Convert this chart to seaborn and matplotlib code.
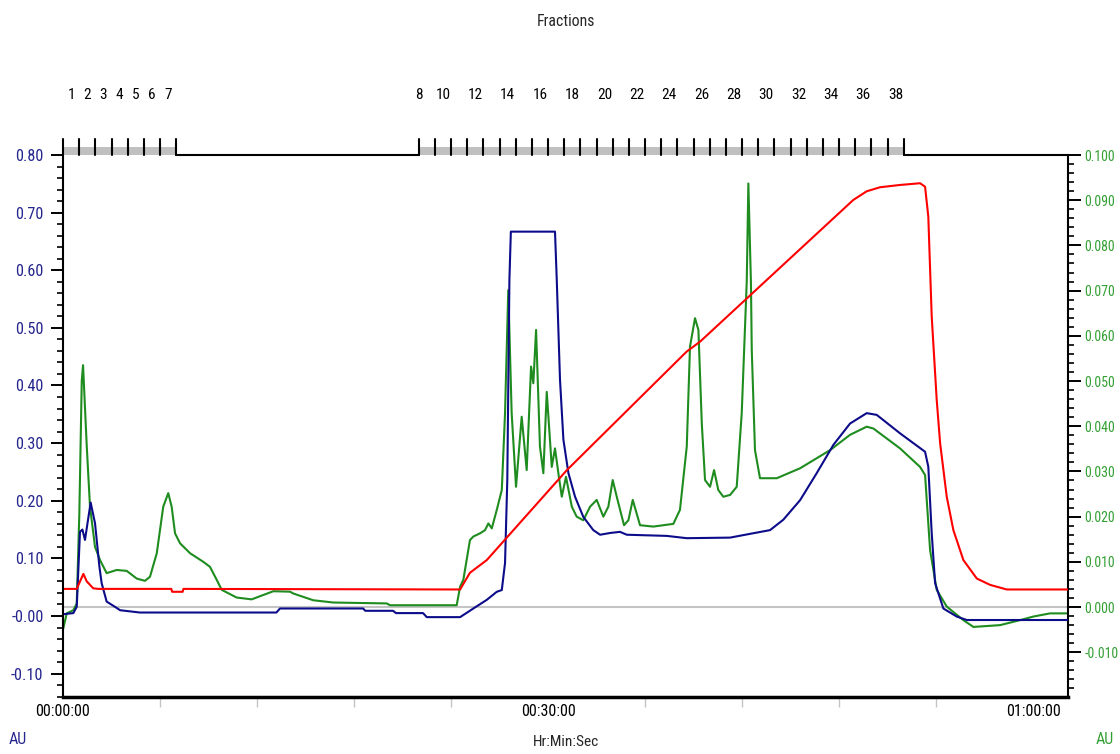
import seaborn as sns
import matplotlib.pyplot as plt
import matplotlib.transforms as mtransforms
from matplotlib import font_manager
from matplotlib.patches import Rectangle
from matplotlib.ticker import FixedLocator, FixedFormatter, MultipleLocator

# time in minutes, absorbance
blue_t = [0.0, 0.64, 0.85, 1.05, 1.20, 1.36, 1.71, 1.98, 2.25, 2.39, 2.70, 3.32, 3.53, 4.76,
          13.2, 13.42, 18.56, 18.7, 20.41, 20.6, 22.27, 22.5, 24.56, 25.38, 26.21, 26.83,
          27.14, 27.34, 27.48, 27.61, 27.70, 30.43, 30.54, 30.74, 30.95, 31.26, 31.67, 32.18,
          32.80, 33.22, 33.83, 34.45, 34.87, 37.34, 38.58, 41.26, 42.39, 43.73, 44.55, 45.59,
          46.62, 47.65, 48.68, 49.71, 50.33, 51.77, 53.32, 53.52, 53.73, 53.94, 54.45, 55.28,
          55.90, 62.16]
blue_v = [0.003, 0.005, 0.016, 0.146, 0.150, 0.132, 0.197, 0.161, 0.086, 0.057, 0.025, 0.014,
          0.010, 0.006, 0.006, 0.013, 0.013, 0.009, 0.009, 0.005, 0.005, -0.002, -0.002, 0.013,
          0.028, 0.042, 0.045, 0.092, 0.236, 0.583, 0.667, 0.667, 0.583, 0.410, 0.306, 0.248,
          0.207, 0.172, 0.149, 0.141, 0.144, 0.146, 0.141, 0.139, 0.135, 0.136, 0.142, 0.149,
          0.167, 0.201, 0.248, 0.297, 0.334, 0.352, 0.349, 0.317, 0.285, 0.259, 0.144, 0.057,
          0.013, -0.001, -0.007, -0.007]

green_t = [0.0, 0.23, 0.64, 0.85, 1.01, 1.16, 1.24, 1.47, 1.67, 1.98, 2.29, 2.70, 3.32, 3.94,
           4.56, 5.07, 5.38, 5.80, 6.20, 6.51, 6.72, 6.93, 7.24, 7.86, 8.68, 9.09, 9.51, 9.82,
           10.74, 11.67, 13.01, 14.04, 14.24, 15.48, 16.72, 20.02, 20.23, 24.35, 24.56, 24.76,
           25.17, 25.38, 25.79, 26.10, 26.31, 26.52, 26.83, 27.14, 27.34, 27.54, 27.75, 28.02,
           28.37, 28.68, 28.95, 29.09, 29.26, 29.50, 29.71, 29.92, 30.23, 30.43, 30.64, 30.85,
           31.11, 31.47, 31.77, 32.18, 32.60, 33.01, 33.42, 33.73, 34.00, 34.25, 34.70, 34.97,
           35.24, 35.69, 36.51, 37.75, 38.16, 38.58, 38.78, 39.09, 39.30, 39.51, 39.71, 40.02,
           40.27, 40.53, 40.84, 41.26, 41.67, 41.98, 42.29, 42.39, 42.55, 42.60, 42.80, 43.11,
           44.15, 45.59, 47.44, 48.68, 49.71, 50.12, 51.77, 53.01, 53.32, 53.63, 54.04, 54.66,
           55.69, 56.31, 57.96, 59.19, 60.02, 61.05, 62.16]
green_v = [-0.0050, -0.0014, -0.0007, 0.0008, 0.0207, 0.0500, 0.0535, 0.0355, 0.0222, 0.0133,
           0.0104, 0.0075, 0.0082, 0.0080, 0.0063, 0.0058, 0.0067, 0.0119, 0.0222, 0.0252,
           0.0222, 0.0163, 0.0141, 0.0119, 0.0100, 0.0089, 0.0060, 0.0038, 0.0021, 0.0017,
           0.0035, 0.0034, 0.0030, 0.0015, 0.0010, 0.0008, 0.0004, 0.0004, 0.0045, 0.0060,
           0.0148, 0.0156, 0.0163, 0.0170, 0.0185, 0.0174, 0.0215, 0.0259, 0.0429, 0.0701,
           0.0429, 0.0266, 0.0421, 0.0303, 0.0532, 0.0495, 0.0613, 0.0355, 0.0296, 0.0476,
           0.0310, 0.0351, 0.0296, 0.0244, 0.0288, 0.0222, 0.0200, 0.0192, 0.0222, 0.0237,
           0.0200, 0.0222, 0.0281, 0.0244, 0.0181, 0.0192, 0.0237, 0.0181, 0.0178, 0.0184,
           0.0215, 0.0355, 0.0576, 0.0639, 0.0613, 0.0406, 0.0281, 0.0266, 0.0303, 0.0259,
           0.0244, 0.0248, 0.0266, 0.0429, 0.0720, 0.0937, 0.0717, 0.0569, 0.0347, 0.0285,
           0.0285, 0.0307, 0.0347, 0.0381, 0.0399, 0.0395, 0.0351, 0.0310, 0.0292, 0.0126,
           0.0038, 0.0001, -0.0029, -0.0044, -0.0040, -0.0029, -0.0021, -0.0014, -0.0014]

red_t = [0.0, 0.85, 1.09, 1.26, 1.47, 1.87, 2.20, 6.70, 6.75, 7.40, 7.45, 24.56, 25.17, 26.21,
         31.16, 38.58, 39.40, 48.88, 49.71, 50.53, 51.77, 53.01, 53.32, 53.52, 53.73, 54.04,
         54.25, 54.66, 55.07, 55.69, 56.52, 57.34, 58.37, 62.16]
red_v = [0.047, 0.047, 0.0625, 0.073, 0.060, 0.048, 0.047, 0.047, 0.042, 0.042, 0.047, 0.046,
         0.075, 0.097, 0.253, 0.459, 0.476, 0.722, 0.737, 0.744, 0.748, 0.751, 0.745, 0.693,
         0.520, 0.375, 0.300, 0.207, 0.149, 0.097, 0.065, 0.054, 0.046, 0.046]

# fraction marks (minutes) and labels
frac_edges = [0, 1, 2, 3, 4, 5, 6, 7,
              22, 23, 24, 25, 26, 27, 28, 29, 30, 31, 32, 33, 34, 35, 36, 37, 38, 39, 40,
              41, 42, 43, 44, 45, 46, 47, 48, 49, 50, 51, 52]
frac_spans = [(0, 7), (22, 52)]
frac_labels = ['1', '2', '3', '4', '5', '6', '7', '8', '10', '12', '14', '16', '18', '20',
               '22', '24', '26', '28', '30', '32', '34', '36', '38']
frac_label_pos = [0.5, 1.5, 2.5, 3.5, 4.5, 5.5, 6.5, 22.0, 23.5, 25.5, 27.5, 29.5, 31.5,
                  33.5, 35.5, 37.5, 39.5, 41.5, 43.5, 45.5, 47.5, 49.5, 51.5]

left_ticks = [0.8, 0.7, 0.6, 0.5, 0.4, 0.3, 0.2, 0.1, 0.0, -0.1]
left_labels = ['0.80', '0.70', '0.60', '0.50', '0.40', '0.30', '0.20', '0.10', '-0.00', '-0.10']
right_ticks = [0.1, 0.09, 0.08, 0.07, 0.06, 0.05, 0.04, 0.03, 0.02, 0.01, 0.0, -0.01]
right_labels = ['0.100', '0.090', '0.080', '0.070', '0.060', '0.050', '0.040', '0.030',
                '0.020', '0.010', '0.000', '-0.010']
time_ticks = [0, 30, 60]
time_labels = ['00:00:00', '00:30:00', '01:00:00']

NAVY = '#0c0c8a'
NAVY_TXT = '#26268f'
GREEN = '#1f8c1f'
GREEN_TXT = '#34a034'


def pick_face():
    # the original uses a very narrow sans; take a condensed face if one is installed
    fonts = font_manager.fontManager.ttflist
    names = sorted({f.name for f in fonts})
    for cand in ['Liberation Sans Narrow', 'Arial Narrow', 'Roboto Condensed',
                 'Noto Sans Condensed', 'Noto Sans SemiCondensed', 'Open Sans Condensed',
                 'DejaVu Sans Condensed']:
        if cand in names:
            return cand, 'normal'
    for n in names:
        if 'Narrow' in n or 'Condensed' in n:
            return n, 'normal'
    for f in fonts:
        if f.stretch in ('condensed', 'semi-condensed', 'extra-condensed') and f.weight in (400, 'normal', 'regular'):
            return f.name, f.stretch
    return 'Liberation Sans', 'normal'


sns.set_theme(style='white')
face, stretch = pick_face()
plt.rcParams['font.family'] = [face, 'DejaVu Sans']
plt.rcParams['font.stretch'] = stretch

fig = plt.figure(figsize=(11.2, 7.54), dpi=100)
renderer = fig.canvas.get_renderer()


def fit(text, width_px, cap):
    t = fig.text(0, 0, text, fontsize=10)
    w = t.get_window_extent(renderer).width
    t.remove()
    return min(10 * width_px / w, cap)


left_fs = fit('-0.00', 32, 13)
right_fs = fit('-0.010', 34, 13)
xtick_fs = fit('00:30:00', 54, 13)
frac_fs = fit('38', 15, 13.5)
title_fs = fit('Fractions', 58, 13)
xlab_fs = fit('Hr:Min:Sec', 66, 13)
au_fs = fit('AU', 18, 13)

ax = fig.add_axes([63 / 1120, 1 - 697 / 754, (1068 - 63) / 1120, (697 - 155) / 754])
ax2 = ax.twinx()
ax.set_zorder(ax2.get_zorder() + 1)
ax.patch.set_visible(False)

ax2.axhline(0, color='#c4c4c4', lw=1.5, zorder=1)
sns.lineplot(x=green_t, y=green_v, ax=ax2, color=GREEN, lw=1.5, estimator=None, sort=False)
sns.lineplot(x=blue_t, y=blue_v, ax=ax, color=NAVY, lw=1.5, estimator=None, sort=False)
sns.lineplot(x=red_t, y=red_v, ax=ax, color='#ff0000', lw=1.5, estimator=None, sort=False)

ax.set_xlim(0, 62.16)
ax.set_ylim(-0.1406, 0.80)
ax2.set_ylim(-0.0199, 0.100)

ax.yaxis.set_major_locator(FixedLocator(left_ticks))
ax.yaxis.set_major_formatter(FixedFormatter(left_labels))
ax.yaxis.set_minor_locator(MultipleLocator(0.02))
ax2.yaxis.set_major_locator(FixedLocator(right_ticks))
ax2.yaxis.set_major_formatter(FixedFormatter(right_labels))
ax2.yaxis.set_minor_locator(MultipleLocator(0.002))
ax.set_xticks(time_ticks)
ax.set_xticklabels(time_labels)
ax.xaxis.set_minor_locator(MultipleLocator(6))

ax.tick_params(axis='y', which='major', left=True, direction='out', length=9, width=1.4,
               color='black', labelcolor=NAVY_TXT, labelsize=left_fs, pad=5)
ax.tick_params(axis='y', which='minor', left=True, direction='out', length=4.5, width=1.2,
               color='black')
ax2.tick_params(axis='y', which='major', right=True, direction='out', length=9, width=1.4,
                color='black', labelcolor=GREEN_TXT, labelsize=right_fs, pad=3)
ax2.tick_params(axis='y', which='minor', right=True, direction='out', length=4.5, width=1.2,
                color='black')
ax.tick_params(axis='x', which='major', bottom=True, length=0, labelsize=xtick_fs, pad=5,
               labelcolor='black')
ax.tick_params(axis='x', which='minor', bottom=True, direction='out', length=7.5, width=1,
               color='#c4c4c4')
ax.set_xlabel('')
ax.set_ylabel('')
ax2.set_ylabel('')

for a in (ax, ax2):
    a.spines['top'].set_visible(False)
    for s in ('left', 'right', 'bottom'):
        a.spines[s].set_color('black')
ax.spines['left'].set_linewidth(1.5)
ax2.spines['right'].set_linewidth(1.5)
ax.spines['bottom'].set_linewidth(2.5)
ax2.spines['left'].set_visible(False)
ax2.spines['bottom'].set_visible(False)
ax.spines['right'].set_visible(False)

# fraction strip along the top edge
trans = mtransforms.blended_transform_factory(ax.transData, ax.transAxes)
for t0, t1 in frac_spans:
    ax.add_patch(Rectangle((t0, 1.0), t1 - t0, 0.015, transform=trans, clip_on=False,
                           facecolor='#c0c0c0', edgecolor='none', zorder=5))
ax.plot([7, 22], [1.0, 1.0], transform=trans, clip_on=False, color='black', lw=1.5, zorder=6)
ax.plot([52, 62.16], [1.0, 1.0], transform=trans, clip_on=False, color='black', lw=1.5,
        zorder=6)
for t in frac_edges:
    ax.plot([t, t], [1.0, 1.03], transform=trans, clip_on=False, color='black', lw=1.5,
            zorder=6)
for lab, t in zip(frac_labels, frac_label_pos):
    ax.text(t, 1.1107, lab, transform=trans, ha='center', va='center', fontsize=frac_fs,
            color='black')

fig.text(566 / 1120, 1 - 22 / 754, 'Fractions', ha='center', va='center', fontsize=title_fs)
fig.text(566 / 1120, 1 - 742 / 754, 'Hr:Min:Sec', ha='center', va='center', fontsize=xlab_fs)
fig.text(18 / 1120, 1 - 740 / 754, 'AU', ha='center', va='center', fontsize=au_fs,
         color=NAVY_TXT)
fig.text(1105 / 1120, 1 - 740 / 754, 'AU', ha='center', va='center', fontsize=au_fs,
         color=GREEN_TXT)

fig.savefig('out.png', dpi=100, facecolor='white')
